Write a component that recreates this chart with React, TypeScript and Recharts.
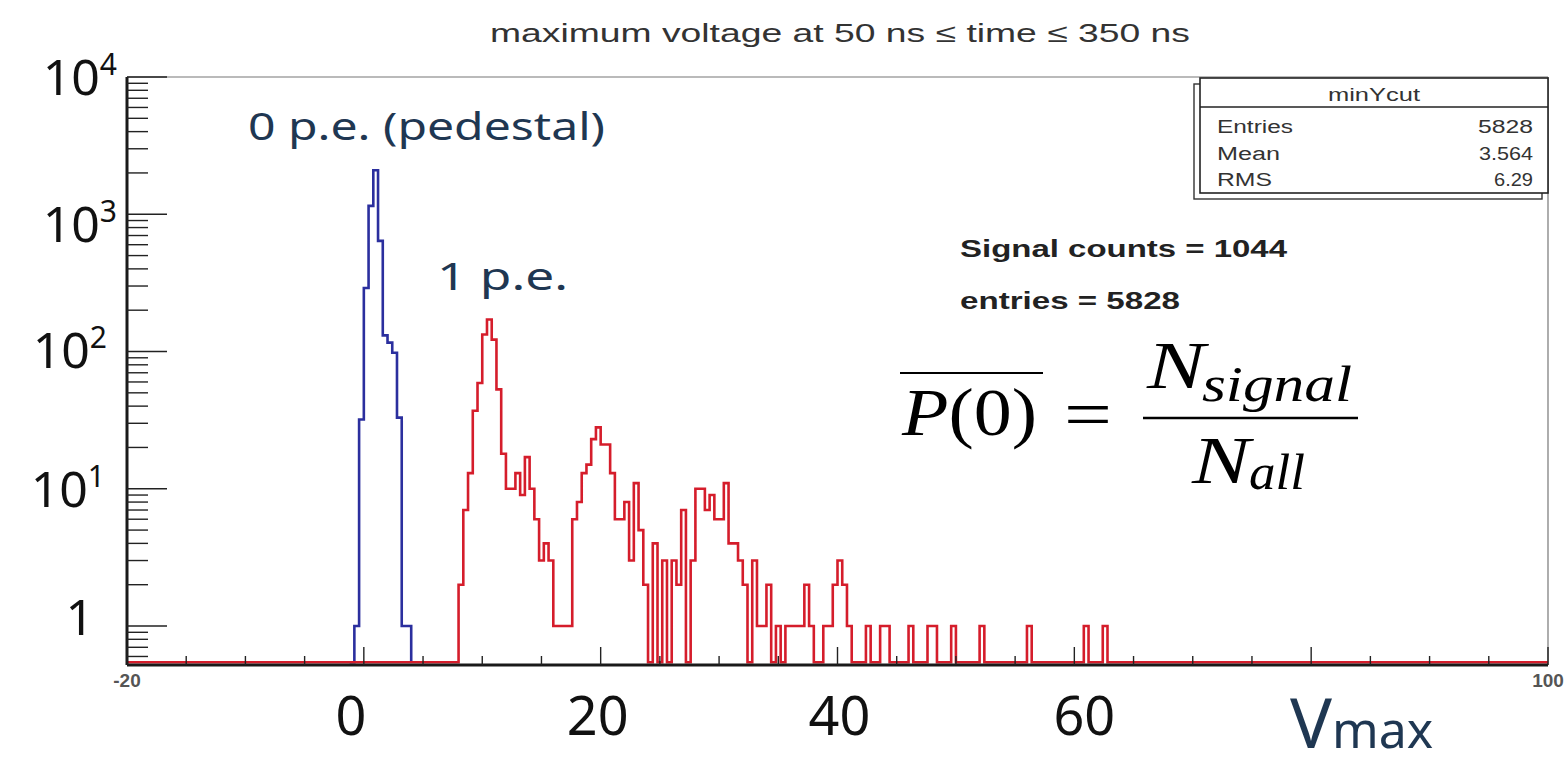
import React from 'react';
import { ComposedChart, Line, XAxis, YAxis, ReferenceLine } from 'recharts';

const W = 1564;
const H = 771;

const BIN_WIDTH = 0.4;
const X_MIN = -20;
const X_MAX = 100;
const Y_MIN = 0.52;
const Y_MAX = 10000;
// empty bins are drawn just above the lower edge of the log axis, as ROOT does
const ZERO_LEVEL = 0.545;

// pedestal histogram (blue), counts per 0.4 bin starting at pedestalStart
const pedestalStart = -0.8;
const pedestalCounts = [1, 32, 290, 1150, 2090, 640, 131, 116, 98, 33, 1, 1];

// signal histogram (red)
const onePeStart = 8.0;
const onePeCounts = [2, 7, 13, 37, 59, 133, 171, 122, 53, 18, 10, 10, 13, 9, 17, 10, 6, 3, 4, 3, 1, 1, 1, 1];
const twoPeStart = 17.6;
const twoPeCounts = [6, 8, 13, 15, 23, 28, 21, 21, 13, 6, 6, 8, 3, 11, 5, 2, 0, 4, 0, 3, 0, 3, 2, 7, 0, 3];
const threePeStart = 28.0;
const threePeCounts = [10, 10, 7, 9, 6, 6, 11, 4, 4, 3, 2, 0, 3, 1, 1, 2, 0, 1, 0, 1, 1, 1, 1, 2, 1, 0, 0, 1, 1, 2, 3, 2, 1];
// bins holding a single entry in the tail
const tailBins = [42.4, 43.6, 44.0, 46.0, 47.6, 48.0, 49.6, 52.0, 56.0, 60.8, 62.4];

const xTicks = [-20, -15, -10, -5, 0, 5, 10, 15, 20, 25, 30, 35, 40, 45, 50, 55, 60, 65, 70, 75, 80, 85, 90, 95, 100];
const xBigLabels = [0, 20, 40, 60];
const yDecades = [1, 10, 100, 1000, 10000];
const yMinorSteps = [2, 3, 4, 5, 6, 7, 8, 9];

const statsTitle = 'minYcut';
const statsNames = ['Entries', 'Mean', 'RMS'];
const statsValues = ['5828', '3.564', '6.29'];

const signalCounts = 1044;
const totalEntries = 5828;

const nBins = Math.round((X_MAX - X_MIN) / BIN_WIDTH);
const binIndex = (x: number) => Math.round((x - X_MIN) / BIN_WIDTH);

const redBins: number[] = new Array(nBins).fill(0);
const fill = (start: number, counts: number[]) =>
  counts.forEach((c, j) => {
    redBins[binIndex(start) + j] = c;
  });
fill(onePeStart, onePeCounts);
fill(twoPeStart, twoPeCounts);
fill(threePeStart, threePeCounts);
tailBins.forEach((x) => {
  redBins[binIndex(x)] = 1;
});

const p0 = binIndex(pedestalStart);
const p1 = p0 + pedestalCounts.length;

const data: { x: number; red: number; blue: number | null }[] = [];
for (let i = 0; i <= nBins; i++) {
  const x = Math.round((X_MIN + i * BIN_WIDTH) * 10) / 10;
  const r = redBins[Math.min(i, nBins - 1)];
  let b: number | null = null;
  if (i >= p0 && i < p1) b = pedestalCounts[i - p0];
  else if (i === p0 - 1 || i === p1) b = ZERO_LEVEL;
  data.push({ x, red: r > 0 ? r : ZERO_LEVEL, blue: b });
}

const yTicks: number[] = [0.6, 0.7, 0.8, 0.9];
yDecades.forEach((d) => {
  yTicks.push(d);
  if (d < Y_MAX) yMinorSteps.forEach((m) => yTicks.push(d * m));
});

const NAVY = '#1f3752';
const LABEL_FONT = '"Noto Sans", "DejaVu Sans", sans-serif';
const ROOT_FONT = '"Liberation Sans", Arial, sans-serif';
const MATH_FONT = '"Liberation Serif", "DejaVu Serif", serif';

// hand placed label nudges, as on the slide
const xLabelNudge: Record<number, number> = { 0: -13, 20: -3, 40: 2, 60: 10 };
const yLabelPos: Record<number, [number, number]> = {
  10000: [-10, 18],
  1000: [-10, 28],
  100: [-20, 16],
  10: [-22, 18],
  1: [-33, 9],
};
const statsNameWidths = [76, 63, 55];
const statsValueWidths = [55, 54, 39];

const XTick = (props: any) => {
  const { x, y, payload } = props;
  const v = payload.value as number;
  const major = v % 20 === 0;
  return (
    <g>
      <line x1={x} x2={x} y1={y} y2={y - (major ? 18 : 9)} stroke="#222" strokeWidth={1.4} />
      {(v === X_MIN || v === X_MAX) && (
        <text x={x} y={y + 22} textAnchor="middle" fontFamily={ROOT_FONT} fontSize={19} fontWeight="bold" fill="#555">
          {v}
        </text>
      )}
      {xBigLabels.includes(v) && (
        <text x={x + (xLabelNudge[v] || 0)} y={y + 70} textAnchor="middle" fontFamily={LABEL_FONT} fontSize={54} fill="#111">
          {v}
        </text>
      )}
    </g>
  );
};

const YTick = (props: any) => {
  const { x, y, payload } = props;
  const v = payload.value as number;
  const e = Math.log10(v);
  const major = Math.abs(e - Math.round(e)) < 1e-6;
  const exp = Math.round(e);
  const pos = yLabelPos[v];
  return (
    <g>
      <line x1={x} x2={x + (major ? 40 : 21)} y1={y} y2={y} stroke="#222" strokeWidth={1.4} />
      {major && pos && (
        <text x={x + pos[0]} y={y + pos[1]} textAnchor="end" fontFamily={LABEL_FONT} fontSize={50} fill="#111">
          {exp === 0 ? '1' : '10'}
          {exp > 0 && (
            <tspan fontSize={30} dy={-20}>
              {exp}
            </tspan>
          )}
        </text>
      )}
    </g>
  );
};

const Overlay = () => (
  <svg width={W} height={H} style={{ position: 'absolute', left: 0, top: 0, pointerEvents: 'none' }}>
    <text x={840} y={42} textAnchor="middle" fontFamily={ROOT_FONT} fontSize={26} fill="#333" textLength={700} lengthAdjust="spacingAndGlyphs">
      maximum voltage at 50 ns ≤ time ≤ 350 ns
    </text>

    {/* stats box */}
    <rect x={1194} y={84} width={348} height={115} fill="#fff" stroke="#333" strokeWidth={1.4} />
    <rect x={1200} y={78} width={348} height={115} fill="#fff" stroke="#222" strokeWidth={1.6} />
    <line x1={1200} x2={1548} y1={107} y2={107} stroke="#222" strokeWidth={1.4} />
    <text x={1374} y={101} textAnchor="middle" fontFamily={ROOT_FONT} fontSize={18} fill="#333" textLength={92} lengthAdjust="spacingAndGlyphs">
      {statsTitle}
    </text>
    {statsNames.map((n, i) => (
      <g key={n}>
        <text x={1217} y={133 + i * 26.5} fontFamily={ROOT_FONT} fontSize={18} fill="#333" textLength={statsNameWidths[i]} lengthAdjust="spacingAndGlyphs">
          {n}
        </text>
        <text x={1533 - statsValueWidths[i]} y={133 + i * 26.5} fontFamily={ROOT_FONT} fontSize={18} fill="#333" textLength={statsValueWidths[i]} lengthAdjust="spacingAndGlyphs">
          {statsValues[i]}
        </text>
      </g>
    ))}

    <text x={960} y={257} fontFamily={ROOT_FONT} fontSize={24} fontWeight="bold" fill="#222" textLength={327} lengthAdjust="spacingAndGlyphs">
      Signal counts = {signalCounts}
    </text>
    <text x={960} y={309} fontFamily={ROOT_FONT} fontSize={24} fontWeight="bold" fill="#222" textLength={220} lengthAdjust="spacingAndGlyphs">
      entries = {totalEntries}
    </text>

    {/* formula */}
    <line x1={900} x2={1043} y1={373} y2={373} stroke="#000" strokeWidth={2.2} />
    <text x={902} y={435} fontFamily={MATH_FONT} fontSize={68} fill="#000" textLength={135} lengthAdjust="spacingAndGlyphs">
      <tspan fontStyle="italic">P</tspan>(0)
    </text>
    <text x={1064} y={437} fontFamily={MATH_FONT} fontSize={68} fill="#000" textLength={48} lengthAdjust="spacingAndGlyphs">
      =
    </text>
    <line x1={1143} x2={1358} y1={418} y2={418} stroke="#000" strokeWidth={2.6} />
    <text x={1147} y={388} fontFamily={MATH_FONT} fontSize={68} fontStyle="italic" fill="#000" textLength={58} lengthAdjust="spacingAndGlyphs">
      N
    </text>
    <text x={1202} y={401} fontFamily={MATH_FONT} fontSize={50} fontStyle="italic" fill="#000" textLength={150} lengthAdjust="spacingAndGlyphs">
      signal
    </text>
    <text x={1192} y={483} fontFamily={MATH_FONT} fontSize={68} fontStyle="italic" fill="#000" textLength={58} lengthAdjust="spacingAndGlyphs">
      N
    </text>
    <text x={1249} y={489} fontFamily={MATH_FONT} fontSize={50} fontStyle="italic" fill="#000" textLength={56} lengthAdjust="spacingAndGlyphs">
      all
    </text>

    {/* slide annotations */}
    <text x={248} y={140} fontFamily={LABEL_FONT} fontSize={38} fill={NAVY} textLength={357} lengthAdjust="spacingAndGlyphs">
      0 p.e. (pedestal)
    </text>
    <text x={437} y={290} fontFamily={LABEL_FONT} fontSize={38} fill={NAVY} textLength={131} lengthAdjust="spacingAndGlyphs">
      1 p.e.
    </text>
    <text x={1290} y={748} fontFamily={LABEL_FONT} fill={NAVY}>
      <tspan fontSize={70}>V</tspan>
      <tspan fontSize={50}>max</tspan>
    </text>
  </svg>
);

export default function App() {
  return (
    <div style={{ position: 'absolute', left: 0, top: 0, width: W, height: H, background: '#fff' }}>
      <ComposedChart width={W} height={H} data={data} margin={{ top: 77, right: 16, bottom: 76, left: 67 }}>
        <XAxis
          type="number"
          dataKey="x"
          domain={[X_MIN, X_MAX]}
          ticks={xTicks}
          interval={0}
          height={30}
          tickSize={0}
          tickMargin={0}
          tickLine={false}
          axisLine={{ stroke: '#1a1a1a', strokeWidth: 3 }}
          tick={XTick}
        />
        <YAxis
          type="number"
          scale="log"
          domain={[Y_MIN, Y_MAX]}
          ticks={yTicks}
          interval={0}
          width={60}
          tickSize={0}
          tickMargin={0}
          tickLine={false}
          axisLine={{ stroke: '#1a1a1a', strokeWidth: 3 }}
          tick={YTick}
        />
        <ReferenceLine y={Y_MAX} stroke="#777" strokeWidth={1.2} />
        <ReferenceLine x={X_MAX} stroke="#777" strokeWidth={1.2} />
        <Line type="stepAfter" dataKey="blue" stroke="#2b2f9e" strokeWidth={2.6} dot={false} isAnimationActive={false} connectNulls={false} />
        <Line type="stepAfter" dataKey="red" stroke="#d51d2b" strokeWidth={2.6} dot={false} isAnimationActive={false} />
      </ComposedChart>
      <Overlay />
    </div>
  );
}
